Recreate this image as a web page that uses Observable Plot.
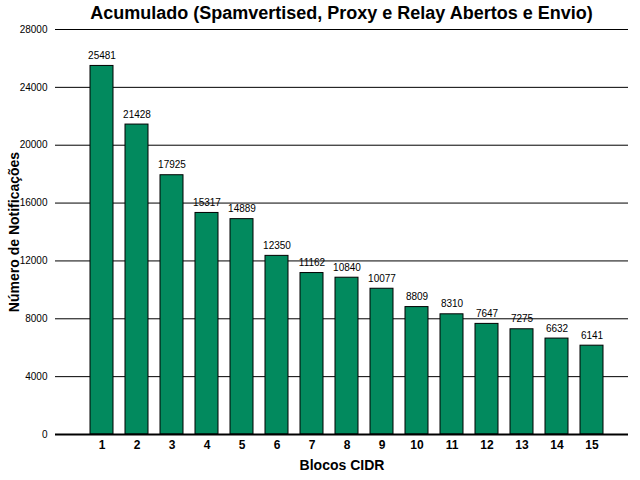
<!DOCTYPE html>
<html><head><meta charset="utf-8">
<script src="https://cdn.jsdelivr.net/npm/d3@7"></script>
<script src="https://cdn.jsdelivr.net/npm/@observablehq/plot@0.6"></script>
<style>
body{margin:0;background:#fff;font-family:"Liberation Sans",Arial,sans-serif;}
#title{height:24px;line-height:26px;font-weight:bold;font-size:18px;text-align:center;padding-left:55px;padding-right:12px;width:573px;white-space:nowrap;}
</style></head>
<body>
<div id="title">Acumulado (Spamvertised, Proxy e Relay Abertos e Envio)</div>
<div id="chart"></div>
<script>
const blocks = [1,2,3,4,5,6,7,8,9,10,11,12,13,14,15];
const counts = [25481,21428,17925,15317,14889,12350,11162,10840,10077,8809,8310,7647,7275,6632,6141];
const yTicks = [0,4000,8000,12000,16000,20000,24000,28000];
const data = blocks.map((b,i)=>({b, v: counts[i]}));

const chart = Plot.plot({
  width: 640, height: 456,
  marginLeft: 55, marginRight: 12, marginTop: 5, marginBottom: 46,
  style: {fontFamily: '"Liberation Sans", Arial, sans-serif', background: "#fff"},
  x: {type: "band", domain: blocks, range: [84.5, 609.5], paddingInner: 0.34, paddingOuter: 0.17, label: null},
  y: {domain: [0, 28000], label: null},
  marks: [
    Plot.ruleY(yTicks, {stroke: "#000", strokeWidth: 1}),
    Plot.barY(data, {x: "b", y: "v", fill: "#028a5e", stroke: "#000", strokeWidth: 1}),
    Plot.text(data, {x: "b", y: "v", text: d => String(d.v), lineAnchor: "bottom", dy: -7, fontSize: 10, fill: "#000"}),
    Plot.ruleX([0], {frameAnchor: "left", stroke: "#000", strokeWidth: 1}),
    Plot.ruleY([0], {stroke: "#000", strokeWidth: 2}),
    Plot.axisY(yTicks, {tickSize: 0, tickPadding: 8, fontSize: 10, tickFormat: d => String(d), label: null, color: "#000"}),
    Plot.axisX(blocks, {tickSize: 0, tickPadding: 6, fontSize: 12, fontWeight: "bold", label: null, color: "#000"}),
    Plot.text(["Blocos CIDR"], {frameAnchor: "bottom", dy: 35, fontSize: 14, fontWeight: "bold", fill: "#000"}),
    Plot.text(["Número de Notificações"], {frameAnchor: "left", textAnchor: "middle", dx: -41, rotate: -90, fontSize: 14, fontWeight: "bold", fill: "#000"})
  ]
});
document.getElementById("chart").appendChild(chart);
</script>
</body></html>
